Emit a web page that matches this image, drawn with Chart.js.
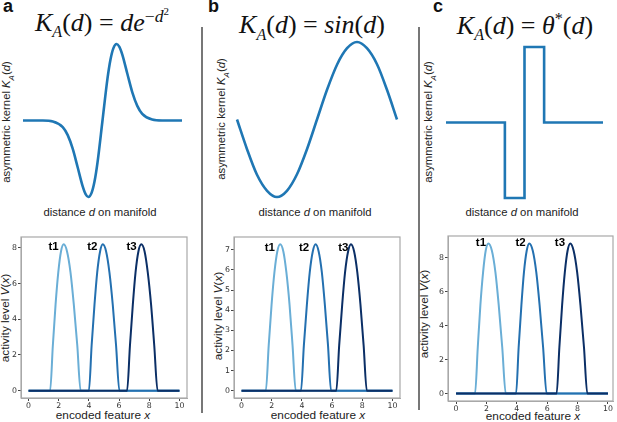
<!DOCTYPE html>
<html>
<head>
<meta charset="utf-8">
<script src="https://cdn.jsdelivr.net/npm/chart.js@4"></script>
<style>
  body { margin: 0; background: #fff; }
  #fig { position: relative; width: 617px; height: 422px; overflow: hidden; font-family: "Liberation Sans", Arial, sans-serif; color: #222; }
  .box { position: absolute; }
  .txt { position: absolute; white-space: nowrap; transform: translate(-50%, -50%); }
  .rot { transform: translate(-50%, -50%) rotate(-90deg); }
  .letter { position: absolute; font-weight: bold; font-size: 18px; color: #111; }
  .math { font-family: "Liberation Serif", serif; font-size: 26px; color: #111; }
  .math i { font-style: italic; }
  .math sub, .math sup { font-size: 62%; }
  .sep { position: absolute; width: 1.5px; background: #777; }
  .small { font-size: 11.3px; }
  .mid { font-size: 11.8px; }
</style>
</head>
<body>
<div id="fig">
  <div class="letter" style="left:3px;top:-4px">a</div>
  <div class="letter" style="left:208px;top:-4px">b</div>
  <div class="letter" style="left:433px;top:-4px">c</div>

  <div class="sep" style="left:201px;top:27px;height:386px"></div>
  <div class="sep" style="left:418px;top:27px;height:383px"></div>

  <div class="txt math" style="left:102px;top:23px"><i>K</i><sub><i>A</i></sub>(<i>d</i>) = <i>de</i><sup style="font-size:68%">−<i>d</i><sup>2</sup></sup></div>
  <div class="txt math" style="left:312px;top:27px"><i>K</i><sub><i>A</i></sub>(<i>d</i>) = <i>sin</i>(<i>d</i>)</div>
  <div class="txt math" style="left:525px;top:27px"><i>K</i><sub><i>A</i></sub>(<i>d</i>) = <i>θ</i><sup>*</sup>(<i>d</i>)</div>

  <div class="txt rot small" style="left:8px;top:122px">asymmetric kernel <i>K<sub style="font-size:70%">A</sub></i>(<i>d</i>)</div>
  <div class="txt rot small" style="left:223px;top:119px">asymmetric kernel <i>K<sub style="font-size:70%">A</sub></i>(<i>d</i>)</div>
  <div class="txt rot small" style="left:430px;top:122px">asymmetric kernel <i>K<sub style="font-size:70%">A</sub></i>(<i>d</i>)</div>

  <div class="txt small" style="left:100px;top:212px">distance <i>d</i> on manifold</div>
  <div class="txt small" style="left:315px;top:212px">distance <i>d</i> on manifold</div>
  <div class="txt small" style="left:522px;top:212px">distance <i>d</i> on manifold</div>

  <div class="txt rot mid" style="left:5px;top:318px">activity level <i>V</i>(<i>x</i>)</div>
  <div class="txt rot mid" style="left:218px;top:316px">activity level <i>V</i>(<i>x</i>)</div>
  <div class="txt rot mid" style="left:424px;top:314px">activity level <i>V</i>(<i>x</i>)</div>

  <div class="txt mid" style="left:103px;top:415px">encoded feature <i>x</i></div>
  <div class="txt mid" style="left:318px;top:415px">encoded feature <i>x</i></div>
  <div class="txt mid" style="left:533px;top:416px">encoded feature <i>x</i></div>

  <div class="box" style="left:21px;top:42px;width:163px;height:157px"><canvas id="kA"></canvas></div>
  <div class="box" style="left:235px;top:40px;width:164px;height:159px"><canvas id="kB"></canvas></div>
  <div class="box" style="left:444px;top:45px;width:161px;height:155px"><canvas id="kC"></canvas></div>

  <div class="box" style="left:0px;top:230px;width:200px;height:192px"><canvas id="vA"></canvas></div>
  <div class="box" style="left:205px;top:230px;width:205px;height:192px"><canvas id="vB"></canvas></div>
  <div class="box" style="left:420px;top:228px;width:197px;height:194px"><canvas id="vC"></canvas></div>
</div>

<script>
// ---- kernels (top row) ----
var kernelA_d = [-4, -3, -2.5, -2, -1.75, -1.5, -1.25, -1, -0.85, -0.71, -0.55, -0.4, -0.25, 0, 0.25, 0.4, 0.55, 0.71, 0.85, 1, 1.25, 1.5, 1.75, 2, 2.5, 3, 4];
var kernelA_k = [0, 0, -0.005, -0.037, -0.082, -0.158, -0.262, -0.368, -0.413, -0.429, -0.406, -0.341, -0.235, 0, 0.235, 0.341, 0.406, 0.429, 0.413, 0.368, 0.262, 0.158, 0.082, 0.037, 0.005, 0, 0];

var kernelB_d = [-3.14, -2.75, -2.36, -1.96, -1.57, -1.18, -0.79, -0.39, 0, 0.39, 0.79, 1.18, 1.57, 1.96, 2.36, 2.75, 3.14];
var kernelB_k = [0, -0.38, -0.71, -0.92, -1, -0.92, -0.71, -0.38, 0, 0.38, 0.71, 0.92, 1, 0.92, 0.71, 0.38, 0];

var kernelC_d = [-4, -1, 0, 1, 4];
var kernelC_k = [0, -1, 1, 0, 0];

// ---- activity (bottom row) ----
var seriesNames = ['t1', 't2', 't3'];
var seriesColors = ['#6aaed6', '#2470b0', '#0b2f66'];
var xTicks = [0, 2, 4, 6, 8, 10];

var actA_x = [
  [0, 1.43, 1.61, 1.79, 1.97, 2.15, 2.33, 2.55, 2.78, 3.00, 3.23, 3.45, 10],
  [0, 4.00, 4.18, 4.37, 4.55, 4.74, 4.92, 5.14, 5.36, 5.58, 5.80, 6.02, 10],
  [0, 6.53, 6.72, 6.91, 7.09, 7.28, 7.47, 7.69, 7.90, 8.12, 8.33, 8.55, 10]
];
var actA_y = [0, 0, 2.53, 4.82, 6.63, 7.80, 8.2, 7.80, 6.63, 4.82, 2.53, 0, 0];
var actA_yTicks = [0, 2, 4, 6, 8];
var actA_labelX = [1.66, 4.23, 6.83];
var actA_labelY = 8.05;

var actB_x = [
  [0, 1.61, 1.80, 1.99, 2.18, 2.37, 2.56, 2.77, 2.97, 3.18, 3.38, 3.59, 10],
  [0, 3.94, 4.13, 4.33, 4.52, 4.72, 4.91, 5.11, 5.32, 5.52, 5.73, 5.93, 10],
  [0, 6.28, 6.47, 6.67, 6.86, 7.06, 7.25, 7.46, 7.67, 7.88, 8.09, 8.30, 10]
];
var actB_y = [0, 0, 2.25, 4.28, 5.89, 6.92, 7.28, 6.92, 5.89, 4.28, 2.25, 0, 0];
var actB_yTicks = [0, 1, 2, 3, 4, 5, 6, 7];
var actB_labelX = [1.87, 4.14, 6.74];
var actB_labelY = 7.08;

var actC_x = [
  [0, 1.25, 1.43, 1.60, 1.78, 1.95, 2.13, 2.36, 2.59, 2.81, 3.04, 3.27, 10],
  [0, 3.95, 4.12, 4.30, 4.47, 4.65, 4.82, 5.05, 5.28, 5.50, 5.73, 5.96, 10],
  [0, 6.62, 6.80, 6.98, 7.16, 7.34, 7.52, 7.74, 7.97, 8.19, 8.42, 8.64, 10]
];
var actC_y = [0, 0, 2.73, 5.20, 7.16, 8.42, 8.85, 8.42, 7.16, 5.20, 2.73, 0, 0];
var actC_yTicks = [0, 2, 4, 6, 8];
var actC_labelX = [1.64, 4.25, 6.84];
var actC_labelY = 8.9;

function pts(xs, ys) {
  return xs.map(function (x, i) { return {x: x, y: ys[i]}; });
}

function kernelChart(id, xs, ys, xmin, xmax, ymin, ymax, stepped) {
  new Chart(document.getElementById(id), {
    type: 'line',
    data: {
      datasets: [{
        data: pts(xs, ys),
        borderColor: '#1f77b4',
        borderWidth: 2.6,
        pointRadius: 0,
        cubicInterpolationMode: stepped ? 'default' : 'monotone',
        stepped: stepped ? 'before' : false,
        clip: false
      }]
    },
    options: {
      responsive: true,
      maintainAspectRatio: false,
      animation: false,
      layout: {padding: 2},
      plugins: {legend: {display: false}, tooltip: {enabled: false}},
      scales: {
        x: {type: 'linear', display: false, min: xmin, max: xmax},
        y: {type: 'linear', display: false, min: ymin, max: ymax}
      }
    }
  });
}

kernelChart('kA', kernelA_d, kernelA_k, -4, 4, -0.429, 0.429, false);
kernelChart('kB', kernelB_d, kernelB_k, -3.14, 3.14, -1, 1, false);
kernelChart('kC', kernelC_d, kernelC_k, -4, 4, -1, 1, true);

// frame + t labels
var framePlugin = {
  id: 'frame',
  afterDraw: function (chart) {
    var a = chart.chartArea, ctx = chart.ctx;
    ctx.save();
    ctx.strokeStyle = '#a8a8a8';
    ctx.lineWidth = 1.2;
    ctx.strokeRect(a.left, a.top, a.right - a.left, a.bottom - a.top);
    var o = chart.options.plugins.frame;
    ctx.fillStyle = '#000';
    ctx.font = 'bold 11.5px "Liberation Sans", Arial, sans-serif';
    ctx.textAlign = 'center';
    ctx.textBaseline = 'middle';
    for (var i = 0; i < seriesNames.length; i++) {
      ctx.fillText(seriesNames[i], chart.scales.x.getPixelForValue(o.labelX[i]), chart.scales.y.getPixelForValue(o.labelY));
    }
    ctx.restore();
  }
};

function activityChart(id, xsList, ys, yTicks, xmin, xmax, ymin, ymax, box, labelX, labelY) {
  var datasets = xsList.map(function (xs, i) {
    return {
      label: seriesNames[i],
      data: pts(xs, ys),
      borderColor: seriesColors[i],
      borderWidth: 2,
      pointRadius: 0,
      order: xsList.length - 1 - i,   // later series on top, like matplotlib
      cubicInterpolationMode: 'monotone'
    };
  });
  var tickStyle = {color: '#333', font: {family: 'DejaVu Sans', size: 7.8}};
  new Chart(document.getElementById(id), {
    type: 'line',
    data: {datasets: datasets},
    options: {
      responsive: true,
      maintainAspectRatio: false,
      animation: false,
      layout: {padding: {left: 0, top: box.top, right: box.right, bottom: 0}},
      plugins: {legend: {display: false}, tooltip: {enabled: false},
        frame: {labelX: labelX, labelY: labelY}},
      scales: {
        x: {
          type: 'linear', min: xmin, max: xmax,
          afterBuildTicks: function (s) { s.ticks = xTicks.map(function (v) { return {value: v}; }); },
          afterFit: function (s) { s.height = box.xh; },
          grid: {display: true, drawOnChartArea: false, drawTicks: true, tickLength: 3, color: '#444'},
          border: {display: true, color: '#a8a8a8'},
          ticks: Object.assign({padding: 0, maxRotation: 0}, tickStyle)
        },
        y: {
          type: 'linear', min: ymin, max: ymax,
          afterBuildTicks: function (s) { s.ticks = yTicks.map(function (v) { return {value: v}; }); },
          afterFit: function (s) { s.width = box.yw; },
          grid: {display: true, drawOnChartArea: false, drawTicks: true, tickLength: 3, color: '#444'},
          border: {display: true, color: '#a8a8a8'},
          ticks: Object.assign({padding: 1}, tickStyle)
        }
      }
    },
    plugins: [framePlugin]
  });
}

activityChart('vA', actA_x, actA_y, actA_yTicks, -0.5, 10.5, -0.41, 8.61,
  {top: 7, right: 13, xh: 24, yw: 21}, actA_labelX, actA_labelY);
activityChart('vB', actB_x, actB_y, actB_yTicks, -0.5, 10.5, -0.364, 7.64,
  {top: 7, right: 10, xh: 24, yw: 29}, actB_labelX, actB_labelY);
activityChart('vC', actC_x, actC_y, actC_yTicks, -0.53, 10.33, -0.44, 9.29,
  {top: 8, right: 4, xh: 21, yw: 28}, actC_labelX, actC_labelY);
</script>
</body>
</html>
